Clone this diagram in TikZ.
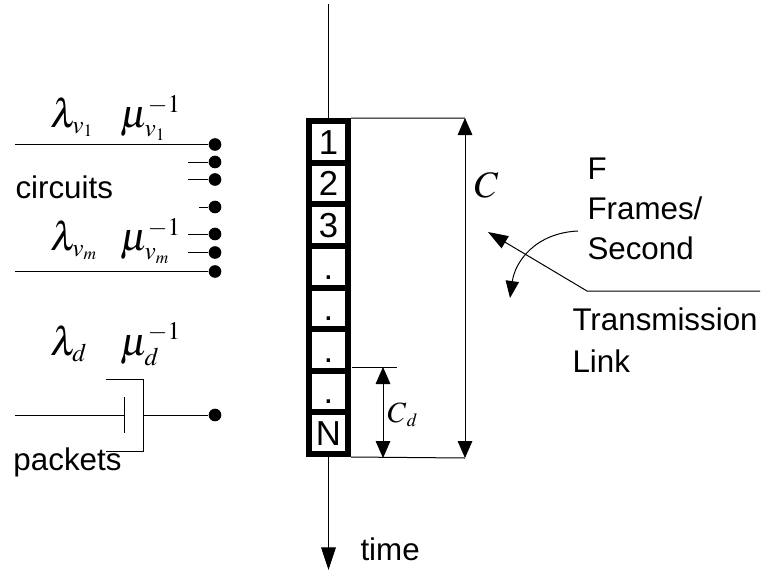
\documentclass[tikz,border=0pt]{standalone}
\usepackage{mathptmx}
\usepackage[no-math]{fontspec}
\newfontfamily\arialfont{Liberation Sans}
\DeclareMathSizes{30}{30}{19}{13}
\DeclareMathSizes{22}{22}{14}{10}
\usetikzlibrary{arrows.meta}

\tikzset{
  txt/.style={font=\arialfont\fontsize{23.5}{30}\selectfont, inner sep=0pt},
  mth/.style={font=\fontsize{30}{30}\selectfont, inner sep=0pt},
  cell/.style={draw, line width=4.5pt, minimum width=29.25pt, minimum height=31.22pt, inner sep=0pt,
    font=\arialfont\fontsize{26}{26}\selectfont, text height=18.5pt, text depth=0pt},
  port/.style={circle, fill, inner sep=0pt, minimum size=9.5pt},
  dim/.style={{Triangle[length=12.75pt,width=11pt]}-{Triangle[length=12.75pt,width=11pt]}},
}

\begin{document}
\begin{tikzpicture}[x=0.75pt,y=0.75pt,yscale=-1,xscale=1,line width=0.75pt]
        \useasboundingbox (0,0) rectangle (761,572);

        % circuit inputs
        \node[port] (d1) at (215,144.5) {};
        \node[port] (d7) at (215,271.5) {};
        \coordinate (w1) at (15,144.5);
        \coordinate (w7) at (15,271.5);
        \draw (w1) -- (d1);
        \draw (w7) -- (d7);
        \foreach \n/\y/\x in {2/162/188, 3/179.5/188, 4/207/199, 5/234/188, 6/252.5/188} {
          \node[port] (d\n) at (215,\y) {};
          \draw (\x,\y) -- (d\n);
        }

        % Text Node
        \node[mth, anchor=base west] (lamv1) at (50,127) {$\lambda_{v_1}$};
        \node[mth, anchor=base west] (muv1) at (120,127) {$\mu_{v_1}^{-1}$};
        \node[txt, anchor=base west] (circ) at (15,198) {circuits};
        \node[mth, anchor=base west] (lamvm) at (50,250) {$\lambda_{v_m}$};
        \node[mth, anchor=base west] (muvm) at (120,250) {$\mu_{v_m}^{-1}$};

        % packet queue
        \node[mth, anchor=base west] (lamd) at (50,355) {$\lambda_d$};
        \node[mth, anchor=base west] (mud) at (120,355) {$\mu_d^{-1}$};
        \coordinate (p0) at (15,415);
        \coordinate (q0) at (124,415);
        \coordinate (q1) at (143,415);
        \node[port] (dp) at (215,415) {};
        \draw (p0) -- (q0);
        \draw (124,397) -- (124,433);
        \draw (106,379) -- (143,379) -- (143,451) -- (106,451);
        \draw (q1) -- (dp);
        \node[txt, anchor=base west] (pack) at (13,470) {packets};

        % frame
        \foreach \t [count=\i] in {1,2,3,.,.,.,.,N}
          \node[cell] (c\i) at (328.5,{121+41.625*(\i-0.5)}) {\t};
        \coordinate (top) at (328.5,4);
        \coordinate (tend) at (328.5,570);
        \draw (top) -- (c1.north);
        \draw[-{Triangle[length=17pt,width=11pt]}] (c8.south) -- (tend);
        \node[txt, anchor=base west] (time) at (360,560) {time};

        % frame length C
        \coordinate (ct) at (465,118);
        \coordinate (cb) at (465,458);
        \draw (c1.north east) -- (ct);
        \draw (c8.south east) -- (cb);
        \draw[dim] (ct) -- (cb);
        \node[anchor=base west, inner sep=0pt, font=\fontsize{28}{30}\selectfont] (clab) at (474,197) {$C$};

        % data part C_d
        \coordinate (cdl) at (352,367);
        \coordinate (cdr) at (397,367);
        \coordinate (cda) at (383,367);
        \coordinate (cdb) at (383,458);
        \draw (cdl) -- (cdr);
        \draw[dim] (cda) -- (cdb);
        \node[anchor=base west, inner sep=0pt, font=\fontsize{22}{24}\selectfont] (cdlab) at (387,422) {$C_{\,d}$};

        % transmission link
        \coordinate (l1) at (760,291);
        \coordinate (l2) at (587,291);
        \coordinate (l3) at (488,232);
        \draw[-{Triangle[length=15pt,width=10.5pt]}] (l1) -- (l2) -- (l3);
        \coordinate (f1) at (578,231);
        \coordinate (f2) at (510,298);
        \draw[-{Triangle[length=12.75pt,width=10pt]}] (f1) .. controls (535,233) and (515,262) .. (f2);
        \node[txt, anchor=north west, align=left] (rate) at (587,157) {F\\Frames/\\Second};
        \node[txt, anchor=north west, align=left, font=\arialfont\fontsize{23.5}{32}\selectfont] (link) at (572,307) {Transmission\\Link};

\end{tikzpicture}
\end{document}
